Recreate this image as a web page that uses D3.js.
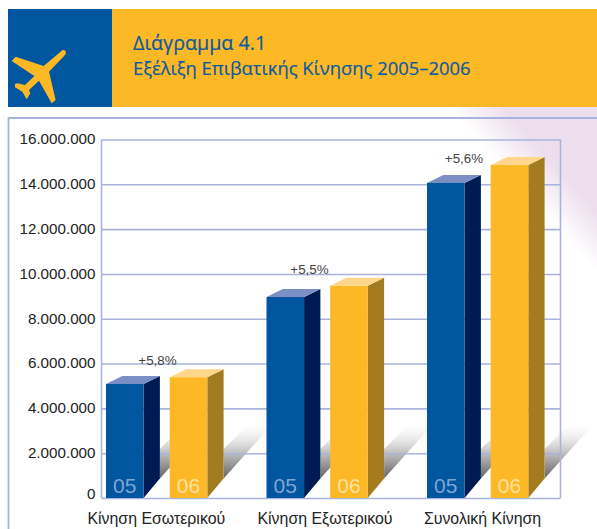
<!DOCTYPE html>
<html><head><meta charset="utf-8">
<style>html,body{margin:0;padding:0;background:#fff;overflow:hidden}svg{display:block}</style>
<script src="https://cdn.jsdelivr.net/npm/d3@7"></script></head>
<body><svg id="c" width="597" height="529"></svg>
<script>
const categories = ["Κίνηση Εσωτερικού","Κίνηση Εξωτερικού","Συνολική Κίνηση"];
const series = ["05","06"];
const values05 = [5090000,8970000,14060000];
const values06 = [5390000,9470000,14860000];
const changes = ["+5,8%","+5,5%","+5,6%"];
const yTicks = [0,2000000,4000000,6000000,8000000,10000000,12000000,14000000,16000000];
const titleLine1 = "Διάγραμμα 4.1";
const titleLine2 = "Εξέλιξη Επιβατικής Κίνησης 2005–2006";

const W=597,H=529;
const svg=d3.select("#c");
const defs=svg.append("defs");
const BLUE="#00569f",YEL="#fdb825",LINE="#a8b4dd";
const sans="'Liberation Sans',Arial,sans-serif";

const bg=defs.append("linearGradient").attr("id","bg").attr("gradientUnits","userSpaceOnUse")
 .attr("x1",523).attr("y1",190).attr("x2",553).attr("y2",163);
bg.append("stop").attr("offset",0).attr("stop-color","#ffffff");
bg.append("stop").attr("offset",1).attr("stop-color","#eddeed");
svg.append("rect").attr("x",8).attr("y",107).attr("width",W-8).attr("height",H-107).attr("fill","url(#bg)");

svg.append("rect").attr("x",8).attr("y",9).attr("width",104).attr("height",98).attr("fill",BLUE);
svg.append("rect").attr("x",112).attr("y",9).attr("width",485).attr("height",98).attr("fill",YEL);
svg.append("path").attr("transform","translate(5,40) scale(0.3333)").attr("fill",YEL)
 .attr("d","M172,31 Q180,28 183,36 Q183,42 178,47 L132,95 L152,180 L140,190 L102,122 L72,150 L76,160 L65,178 L52,155 L30,142 L30,132 L38,130 L60,135 L88,108 L20,63 L32,50 L116,78 Z");

const title=svg.append("g").attr("fill","#0a5aa3").attr("font-family","'Open Sans',sans-serif");
title.append("text").attr("x",133).attr("y",50).attr("font-size",19.7).attr("stroke","#0a5aa3").attr("stroke-width",.2).text(titleLine1);
title.append("text").attr("x",133).attr("y",75).attr("font-size",18.4).attr("stroke","#0a5aa3").attr("stroke-width",.2).text(titleLine2);

svg.append("path").attr("d",`M597,118 H8.5 V529`).attr("fill","none").attr("stroke",LINE).attr("stroke-width",1.8);

const y0=498,yTop=139.5,xL=101.5,xR=560.5;
const y=d3.scaleLinear().domain([0,16000000]).range([y0,yTop]);
const x0=d3.scaleBand().domain(categories).range([106,106+3*160.5]);
const x1=d3.scaleBand().domain(series).range([0,101.3]).paddingInner(.41).paddingOuter(0).align(0);
const bw=x1.bandwidth(),dx=16.3,dyTop=8,dyBot=19.5;

const rows=[];
categories.forEach((c,i)=>{rows.push({c,i,s:"05",v:values05[i],front:BLUE,top:"#7b8fc4",side:"#001a52",num:"#7fa6d3"});
 rows.push({c,i,s:"06",v:values06[i],front:YEL,top:"#ffd68b",side:"#a37c22",num:"#ffe1a0"});});
const bx=d=>x0(d.c)+x1(d.s);

const sg=defs.append("linearGradient").attr("id","sh").attr("gradientUnits","userSpaceOnUse")
 .attr("x1",0).attr("y1",478).attr("x2",0).attr("y2",423);
sg.append("stop").attr("offset",0).attr("stop-color","#666666");
sg.append("stop").attr("offset",.5).attr("stop-color","#c8c8c8");
sg.append("stop").attr("offset",1).attr("stop-color","#ffffff").attr("stop-opacity",.2);
svg.append("g").selectAll("path").data(rows).join("path").attr("fill","url(#sh)")
 .attr("d",d=>{const a=bx(d)+bw+dx;return `M${a},${y0-dyBot} L${a+50},${y0-75} L${a+26},${y0-75} L${a},${y0-49} Z`;});

const fmt=d3.formatLocale({decimal:",",thousands:".",grouping:[3],currency:["","€"]}).format(",d");
const axis=svg.append("g").attr("transform",`translate(${xL},0)`)
 .call(d3.axisLeft(y).tickValues(yTicks).tickFormat(fmt).tickSize(-(xR-xL)).tickPadding(6));
axis.selectAll(".tick line").attr("stroke",LINE).attr("stroke-width",1.6);
axis.select(".domain").remove();
axis.selectAll(".tick text").attr("font-family",sans).attr("font-size",15.2).attr("fill","#222").attr("x",-6)
 .attr("dy",d=>d===0?"0.06em":"0.28em");
svg.append("path").attr("d",`M${xL},${y0} V${yTop} M${xR},${y0} V${yTop}`).attr("fill","none").attr("stroke",LINE).attr("stroke-width",1.6);

const bars=svg.append("g").selectAll("g").data(rows).join("g");
bars.append("path").attr("fill",d=>d.side).attr("d",d=>{const a=bx(d)+bw,t=y(d.v);
 return `M${a},${t} L${a+dx},${t-dyTop} V${y0-dyBot} L${a},${y0} Z`;});
bars.append("path").attr("fill",d=>d.top).attr("d",d=>{const a=bx(d),t=y(d.v);
 return `M${a},${t} L${a+dx},${t-dyTop} H${a+bw+dx} L${a+bw},${t} Z`;});
bars.append("rect").attr("x",bx).attr("y",d=>y(d.v)).attr("width",bw).attr("height",d=>y0-y(d.v)).attr("fill",d=>d.front);
bars.append("text").attr("x",d=>bx(d)+bw/2).attr("y",492.7).attr("text-anchor","middle")
 .attr("font-family",sans).attr("font-size",21).attr("fill",d=>d.num).text(d=>d.s);

const pctX=[51.5,43,37], pctY=[19,23,20];
svg.append("g").selectAll("text").data(categories).join("text")
 .attr("x",(c,i)=>x0(c)+pctX[i]).attr("y",(c,i)=>y(values05[i])-pctY[i])
 .attr("text-anchor","middle").attr("font-family",sans).attr("font-size",13.4).attr("fill","#444").text((c,i)=>changes[i]);

const catX=[50.3,58.5,55.5];
const xAxis=svg.append("g").attr("transform",`translate(0,${y0})`)
 .call(d3.axisBottom(x0).tickSize(0).tickPadding(0));
xAxis.select(".domain").remove();
xAxis.selectAll(".tick").attr("transform",c=>`translate(${x0(c)+catX[categories.indexOf(c)]},0)`);
xAxis.selectAll(".tick text").attr("font-family",sans).attr("font-size",15.9).attr("fill","#222").attr("y",26).attr("dy",0);
</script></body></html>
